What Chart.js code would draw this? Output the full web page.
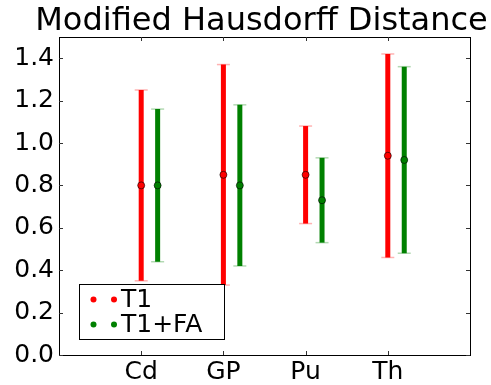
<!DOCTYPE html>
<html>
<head>
<meta charset="utf-8">
<script src="https://cdn.jsdelivr.net/npm/chart.js@4/dist/chart.umd.min.js"></script>
<style>
html,body{margin:0;padding:0;background:#fff;}
#wrap{width:491px;height:385px;}
</style>
</head>
<body>
<div id="wrap"><canvas id="c" width="491" height="385"></canvas></div>
<script>
const categories = ['Cd', 'GP', 'Pu', 'Th'];
const t1Mean = [0.80, 0.85, 0.85, 0.94];
const t1Err = [0.45, 0.52, 0.23, 0.48];
const t1faMean = [0.80, 0.80, 0.73, 0.92];
const t1faErr = [0.36, 0.38, 0.20, 0.44];
const yTicks = [0.0, 0.2, 0.4, 0.6, 0.8, 1.0, 1.2, 1.4];
const seriesNames = ['T1', 'T1+FA'];
const titleText = 'Modified Hausdorff Distance';

const FONT = 'DejaVu Sans';
const series = [
  {label: seriesNames[0], mean: t1Mean, err: t1Err, offset: 0, color: '#ff0000', cap: 'rgba(255,0,0,0.3)'},
  {label: seriesNames[1], mean: t1faMean, err: t1faErr, offset: 0.2, color: '#008000', cap: 'rgba(0,128,0,0.3)'}
];

const errorBars = {
  id: 'errorBars',
  beforeDatasetsDraw(chart) {
    const ctx = chart.ctx, xs = chart.scales.x, ys = chart.scales.y;
    ctx.save();
    chart.data.datasets.forEach((ds) => {
      const s = ds._series;
      s.mean.forEach((m, i) => {
        const px = xs.getPixelForValue(i + 1 + s.offset);
        const top = ys.getPixelForValue(m + s.err[i]);
        const bot = ys.getPixelForValue(m - s.err[i]);
        ctx.strokeStyle = s.color;
        ctx.lineWidth = 5;
        ctx.lineCap = 'butt';
        ctx.beginPath(); ctx.moveTo(px, top); ctx.lineTo(px, bot); ctx.stroke();
        ctx.strokeStyle = s.cap;
        ctx.lineWidth = 1.5;
        [top, bot].forEach(y => {
          ctx.beginPath(); ctx.moveTo(px - 6.5, y); ctx.lineTo(px + 6.5, y); ctx.stroke();
        });
      });
    });
    ctx.restore();
  }
};

const frame = {
  id: 'frame',
  afterDraw(chart) {
    const ctx = chart.ctx, a = chart.chartArea, xs = chart.scales.x, ys = chart.scales.y;
    ctx.save();
    // title centred over the plot
    ctx.fillStyle = '#000';
    ctx.font = '32px "' + FONT + '"';
    ctx.textAlign = 'center';
    ctx.textBaseline = 'alphabetic';
    ctx.fillText(titleText, (a.left + a.right) / 2 - 3, 30);

    ctx.strokeStyle = '#000';
    ctx.lineWidth = 1;
    ctx.strokeRect(Math.round(a.left) + 0.5, Math.round(a.top) + 0.5, Math.round(a.right - a.left), Math.round(a.bottom - a.top));
    ctx.strokeStyle = '#333';
    yTicks.forEach(v => {
      const y = Math.round(ys.getPixelForValue(v)) + 0.5;
      ctx.beginPath(); ctx.moveTo(a.left, y); ctx.lineTo(a.left + 4, y); ctx.stroke();
      ctx.beginPath(); ctx.moveTo(a.right, y); ctx.lineTo(a.right - 4, y); ctx.stroke();
    });
    categories.forEach((c, i) => {
      const x = Math.round(xs.getPixelForValue(i + 1)) + 0.5;
      ctx.beginPath(); ctx.moveTo(x, a.bottom); ctx.lineTo(x, a.bottom - 4); ctx.stroke();
      ctx.beginPath(); ctx.moveTo(x, a.top); ctx.lineTo(x, a.top + 4); ctx.stroke();
    });
    // legend
    const lx = 79.5, ly = 284.5, lw = 145, lh = 55;
    ctx.fillStyle = '#fff';
    ctx.fillRect(lx, ly, lw, lh);
    ctx.strokeStyle = '#000';
    ctx.strokeRect(lx, ly, lw, lh);
    chart.data.datasets.forEach((ds, k) => {
      const y = 299.5 + k * 25;
      [93.5, 114].forEach(x => {
        ctx.beginPath(); ctx.arc(x, y, 3, 0, Math.PI * 2);
        ctx.fillStyle = ds.backgroundColor; ctx.fill();
      });
      ctx.fillStyle = '#000';
      ctx.font = '25px "' + FONT + '"';
      ctx.textBaseline = 'middle';
      ctx.textAlign = 'left';
      ctx.fillText(ds.label, 121, y + 1);
    });
    ctx.restore();
  }
};

const datasets = series.map(s => ({
  label: s.label,
  data: s.mean.map((m, i) => ({x: i + 1 + s.offset, y: m})),
  backgroundColor: s.color,
  borderColor: 'rgba(0,0,0,0.6)',
  borderWidth: 1,
  pointRadius: 3.5,
  pointHoverRadius: 3.5,
  showLine: false,
  _series: s
}));

new Chart(document.getElementById('c'), {
  type: 'scatter',
  data: {datasets},
  options: {
    responsive: false,
    animation: false,
    events: [],
    layout: {padding: {left: 0, right: 21, top: 37, bottom: 0}},
    plugins: {
      legend: {display: false},
      tooltip: {enabled: false},
      title: {display: false}
    },
    scales: {
      x: {
        type: 'linear', min: 0, max: 5,
        grid: {display: false, drawTicks: false},
        border: {display: false},
        afterBuildTicks: (sc) => { sc.ticks = categories.map((c, i) => ({value: i + 1})); },
        afterFit: (sc) => { sc.height = 30; },
        ticks: {
          color: '#000', padding: 5, maxRotation: 0, autoSkip: false,
          font: {family: FONT, size: 25, lineHeight: 1.0},
          callback: (v) => categories[Math.round(v) - 1] || ''
        }
      },
      y: {
        type: 'linear', min: 0, max: 1.5,
        grid: {display: false, drawTicks: false},
        border: {display: false},
        afterBuildTicks: (sc) => { sc.ticks = yTicks.map(v => ({value: v})); },
        afterFit: (sc) => { sc.width = 59; },
        ticks: {
          color: '#000', padding: 5, autoSkip: false,
          font: {family: FONT, size: 25},
          callback: (v) => Number(v).toFixed(1)
        }
      }
    }
  },
  plugins: [errorBars, frame]
});
</script>
</body>
</html>
